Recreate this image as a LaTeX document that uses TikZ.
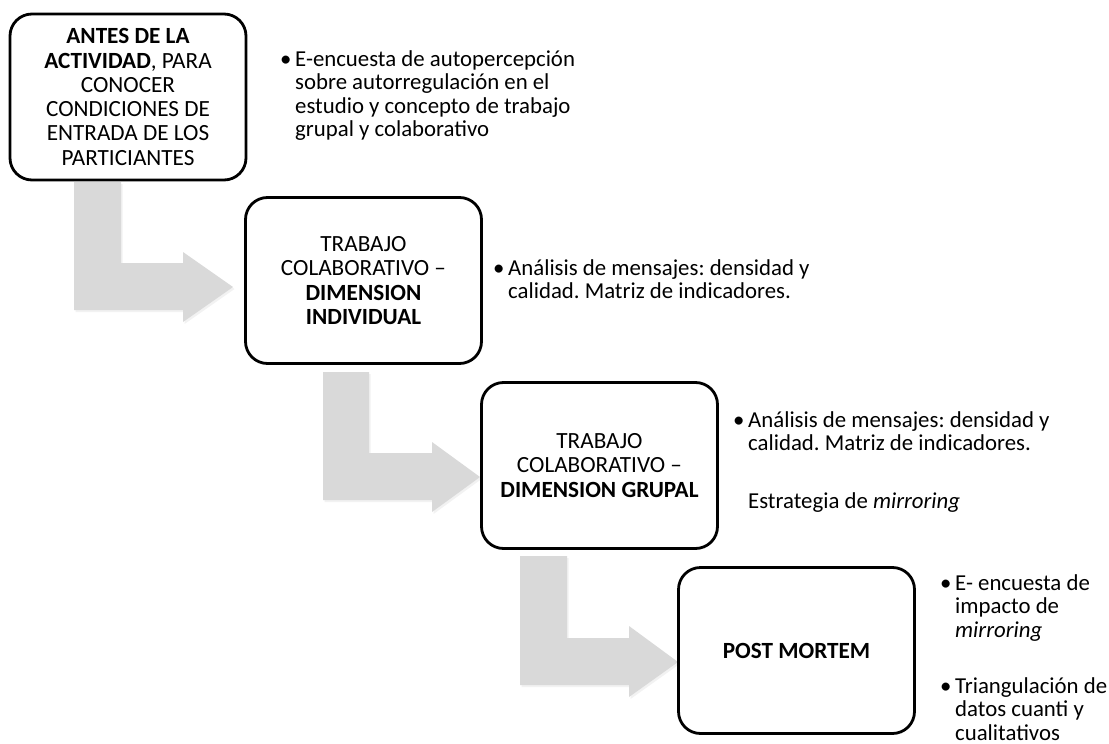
\documentclass[tikz,border=0pt]{standalone}
\usepackage{fontspec}
\setmainfont{Carlito}
\usetikzlibrary{shadows}
\begin{document}
\frenchspacing
\begin{tikzpicture}[x=1pt,y=-1pt,
  stagebox/.style={draw=black, line width=2.8pt, rounded corners=22pt, fill=white,
    minimum width=236pt, minimum height=166pt, align=center, inner sep=0pt,
    font=\fontsize{23.2}{24.3}\selectfont},
  notetext/.style={anchor=base west, inner sep=0pt, align=left,
    font=\fontsize{22.8}{23.5}\selectfont},
  bulletmark/.style={anchor=base west, inner sep=0pt, font=\fontsize{22.8}{23.5}\selectfont},
  bentarrow/.style={fill=black!15, draw=none,
    drop shadow={opacity=0.1, shadow xshift=1.5pt, shadow yshift=-2pt}}
]
\useasboundingbox (0,0) rectangle (1109,744);
\fill[white] (0,0) rectangle (1109,744);

% bent arrows
\path[bentarrow] (74,182) -- (121,182) -- (121,263) -- (183,263) -- (183,252) -- (233,287)
  -- (183,322) -- (183,310) -- (74,310) -- cycle;
\path[bentarrow] (323,372) -- (369,372) -- (369,453) -- (432,453) -- (432,442) -- (480,477)
  -- (432,512) -- (432,500) -- (323,500) -- cycle;
\path[bentarrow] (520,556) -- (567,556) -- (567,638) -- (629,638) -- (629,626) -- (678,662)
  -- (629,697) -- (629,685) -- (520,685) -- cycle;

% stage boxes
\node[stagebox] (b1) at (128,97) {\textbf{ANTES DE LA}\\\textbf{ACTIVIDAD}, PARA\\CONOCER\\CONDICIONES DE\\ENTRADA DE LOS\\PARTICIANTES};
\node[stagebox] (b2) at (363.5,280.5) {TRABAJO\\COLABORATIVO –\\\textbf{DIMENSION}\\\textbf{INDIVIDUAL}};
\node[stagebox] (b3) at (599.5,465.5) {TRABAJO\\COLABORATIVO –\\\textbf{DIMENSION GRUPAL}};
\node[stagebox] (b4) at (796.5,650.5) {\textbf{POST MORTEM}};

% notes (node base = baseline of last line)
\node[bulletmark] (p1) at (280,66) {•};
\node[notetext] (t1) at (295,136.5) {E-encuesta de autopercepción\\sobre autorregulación en el\\estudio y concepto de trabajo\\grupal y colaborativo};

\node[bulletmark] (p2) at (493,275) {•};
\node[notetext] (t2) at (508,298.5) {Análisis de mensajes: densidad y\\calidad. Matriz de indicadores.};

\node[bulletmark] (p3) at (733,427) {•};
\node[notetext] (t3) at (748,450.5) {Análisis de mensajes: densidad y\\calidad. Matriz de indicadores.};
\node[notetext] (t3b) at (748,508) {Estrategia de \textit{mirroring}};

\node[bulletmark] (p4) at (940,590) {•};
\node[notetext] (t4) at (955,637) {E- encuesta de\\impacto de\\\textit{mirroring}};
\node[bulletmark] (p5) at (940,693) {•};
\node[notetext] (t5) at (955,740) {Triangulación de\\datos cuanti y\\cualitativos};
\end{tikzpicture}
\end{document}
